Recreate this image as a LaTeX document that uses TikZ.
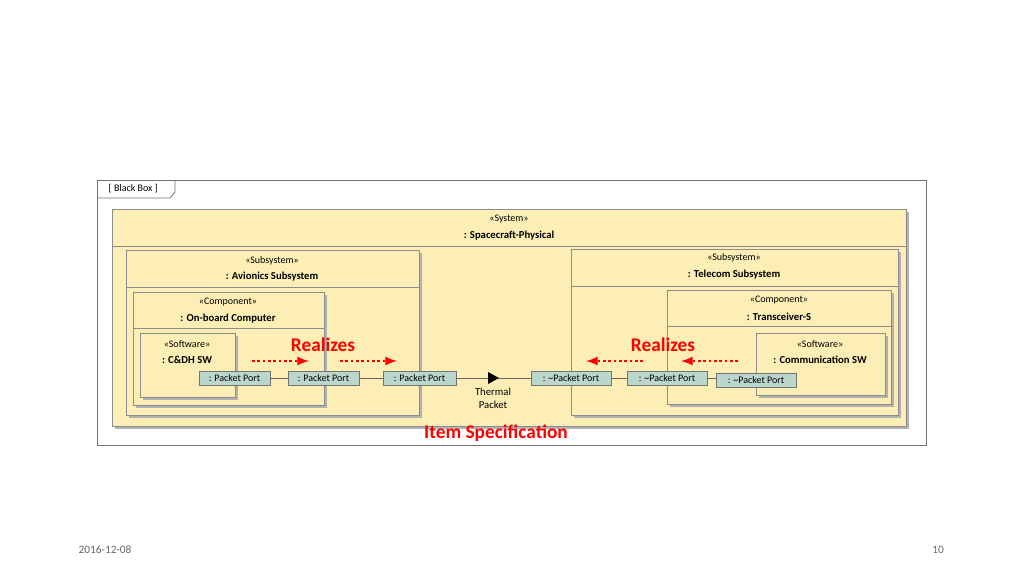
\documentclass[tikz,border=0pt]{standalone}
\usepackage{fontspec}
\setmainfont{Carlito}
\usetikzlibrary{calc}
\begin{document}
\begin{tikzpicture}[x=0.75pt,y=-0.75pt,
  blk/.style={draw=black!45,fill=partfill,line width=0.6pt},
  shd/.style={fill=black!30},
  port/.style={draw=black!55,fill=portfill,minimum height=14*0.75pt,inner sep=1pt,font=\fontsize{7.5}{8}\selectfont},
  st/.style={font=\fontsize{7.5}{9}\selectfont},
  nm/.style={font=\bfseries\fontsize{8}{9}\selectfont},
  real/.style={red,line width=2pt,dash pattern=on 2pt off 2pt,-latex},
  big/.style={text=red,font=\bfseries\fontsize{14.5}{16}\selectfont}]
\definecolor{partfill}{HTML}{FCEEB5}
\definecolor{portfill}{HTML}{BBD7CB}
\useasboundingbox (0,0) rectangle (1024,576);
% frame
\draw[black!55,line width=0.7pt] (97,180) rectangle (926,445);
\draw[black!55,line width=0.6pt] (97,198) -- (170,198) -- (175,192) -- (175,180);
\node[st,anchor=west] (tab) at (104,189) {[ Black Box ]};
\newcommand{\myblock}[5]{%
  \fill[shd] (#1+3,#2+3) rectangle (#3+3,#4+3);
  \draw[blk] (#1,#2) rectangle (#3,#4);
  \draw[black!45] (#1,#5) -- (#3,#5);}
\myblock{112}{209}{906}{426}{246}
\node[st] (s1) at (509,219) {«System»};
\node[nm] (s2) at (509,236) {: Spacecraft-Physical};
\myblock{126}{250}{419}{415}{287}
\node[st] at (272,261) {«Subsystem»};
\node[nm] at (272,277) {: Avionics Subsystem};
\myblock{133}{292}{324}{405}{328}
\node[st] at (228,302) {«Component»};
\node[nm] at (228,319) {: On-board Computer};
\fill[shd] (143,336) rectangle (238,400);
\draw[blk] (140,333) rectangle (235,397);
\node[st] at (187,344) {«Software»};
\node[nm] at (187,360) {: C\&DH SW};
\myblock{571}{249}{898}{415}{286}
\node[st] at (734,258) {«Subsystem»};
\node[nm] at (734,275) {: Telecom Subsystem};
\myblock{667}{290}{891}{404}{326}
\node[st] at (779,300) {«Component»};
\node[nm] at (779,317) {: Transceiver-S};
\fill[shd] (759,336) rectangle (888,398);
\draw[blk] (756,333) rectangle (885,395);
\node[st] at (820,344) {«Software»};
\node[nm] at (820,360) {: Communication SW};
% ports
\node[port,minimum width=71*0.75pt] (p1) at (234.5,378) {: Packet Port};
\node[port,minimum width=71*0.75pt] (p2) at (323.5,378) {: Packet Port};
\node[port,minimum width=73*0.75pt] (p3) at (419.5,378) {: Packet Port};
\node[port,minimum width=80*0.75pt] (p4) at (571,378) {: \textasciitilde Packet Port};
\node[port,minimum width=80*0.75pt] (p5) at (667,378) {: \textasciitilde Packet Port};
\node[port,minimum width=80*0.75pt] (p6) at (756,380) {: \textasciitilde Packet Port};
\draw[black!60] (p1) -- (p2);
\draw[black!60] (p2) -- (p3);
\draw[black!60] (p3) -- (p4);
\draw[black!60] (p5.east) -- (p6.west|-p5.east);
\draw[black!60] (p4) -- (p5);
\coordinate (tri) at (493,378);
\fill[black] ($(tri)+(-5,-6)$) -- ($(tri)+(6,0)$) -- ($(tri)+(-5,6)$) -- cycle;
\node[font=\fontsize{8}{10}\selectfont,align=center] (tp) at (493,398) {Thermal\\Packet};
% realizes
\coordinate (a1) at (252,361); \coordinate (a2) at (309,361);
\coordinate (a3) at (340,361); \coordinate (a4) at (397,361);
\coordinate (a5) at (643,361); \coordinate (a6) at (586,361);
\coordinate (a7) at (738,361); \coordinate (a8) at (681,361);
\draw[real] (a1) -- (a2); \draw[real] (a3) -- (a4);
\draw[real] (a5) -- (a6); \draw[real] (a7) -- (a8);
\node[big] (r1) at (323,345) {Realizes};
\node[big] (r2) at (663,345) {Realizes};
\node[big] (is) at (496,433) {Item Specification};
\node[black!60,font=\fontsize{8.5}{10}\selectfont] (d) at (105,550) {2016-12-08};
\node[black!60,font=\fontsize{8.5}{10}\selectfont] (n) at (938,550) {10};
\end{tikzpicture}
\end{document}
